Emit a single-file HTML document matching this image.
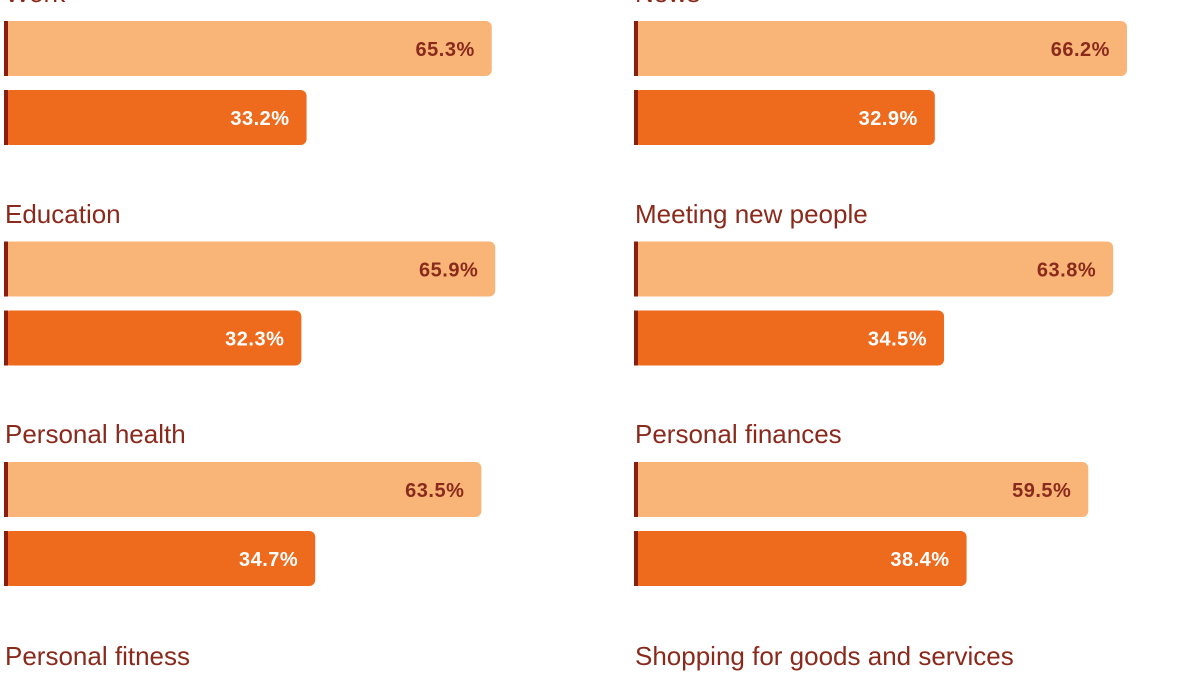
<!DOCTYPE html>
<html><head><meta charset="utf-8"><style>
html,body{margin:0;padding:0;background:#fff;width:1200px;height:675px;overflow:hidden}
svg{display:block;font-family:"Liberation Sans","DejaVu Sans",sans-serif}
</style></head><body>
<svg id="chart" width="1200" height="675" viewBox="0 0 1200 675"></svg>
<script>
const categories = ["Work","News","Education","Meeting new people","Personal health","Personal finances","Personal fitness","Shopping for goods and services"];
const seriesA = [65.3,66.2,65.9,63.8,63.5,59.5,null,null];
const seriesB = [33.2,32.9,32.3,34.5,34.7,38.4,null,null];
const NS="http://www.w3.org/2000/svg";
const svg=document.getElementById('chart');
const colX=[4,634], rowY=[-8,213,433,655];
function xLen(v){return 111+v*5.77;}
function mk(t,a){const e=document.createElementNS(NS,t);for(const k in a)e.setAttribute(k,a[k]);svg.appendChild(e);return e;}
function bar(x,y,v,fill,tc,name){
  const w=xLen(v);
  const r=mk('rect',{x:x,y:y,width:w,height:55,rx:6,fill:fill});
  
  
  const b=mk('rect',{x:x,y:y,width:4,height:55,fill:'#8a1f10'});
  
  
  const t=mk('text',{x:x+w-17,y:y+35,'text-anchor':'end','font-size':20,'font-weight':'bold',fill:tc,'letter-spacing':'0.5'});
  t.textContent=v.toFixed(1)+'%';
  
  
}
categories.forEach((c,i)=>{
  const x=colX[i%2], row=Math.floor(i/2), ly=rowY[row];
  const t=mk('text',{x:x+1,y:ly+10,'font-size':26,fill:'#8a2a1c'});
  t.textContent=c;
  
  
  const by=21+row*220.5;
  if(seriesA[i]!=null) bar(x,by,seriesA[i],'#f8b577','#8a2a1c','bar-a');
  if(seriesB[i]!=null) bar(x,by+69,seriesB[i],'#ee6a1c','#ffffff','bar-b');
});
</script>
</body></html>
